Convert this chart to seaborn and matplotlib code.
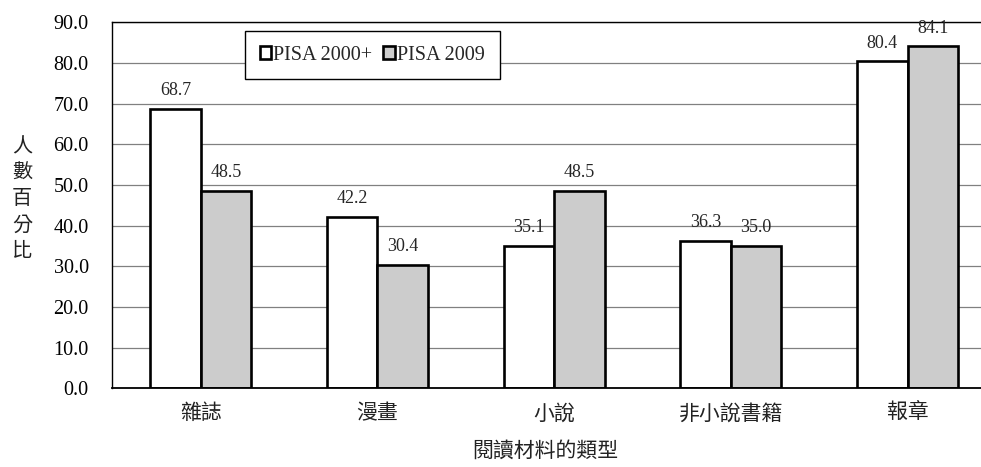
import matplotlib
matplotlib.use("Agg")
import matplotlib.pyplot as plt
import seaborn as sns
import pandas as pd
import numpy as np

categories = ["雜誌", "漫畫", "小說", "非小說書籍", "報章"]
series_names = ["PISA 2000+", "PISA 2009"]
pisa_2000 = [68.7, 42.2, 35.1, 36.3, 80.4]
pisa_2009 = [48.5, 30.4, 48.5, 35.0, 84.1]
y_ticks = [0, 10, 20, 30, 40, 50, 60, 70, 80, 90]

df = pd.DataFrame({
    "類型": categories * 2,
    "系列": [series_names[0]] * len(categories) + [series_names[1]] * len(categories),
    "百分比": pisa_2000 + pisa_2009,
})

sns.set_theme(style="white")
plt.rcParams["font.family"] = ["Liberation Serif", "Noto Sans CJK TC"]
CJK = "Noto Sans CJK TC"

W, H = 981, 467
fig = plt.figure(figsize=(W / 100, H / 100), dpi=100)
ax = fig.add_axes([112.4 / W, 1 - 388.3 / H, 883.5 / W, 366 / H])

sns.barplot(
    data=df, x="類型", y="百分比", hue="系列", order=categories,
    hue_order=series_names, palette=["#FFFFFF", "#CCCCCC"],
    width=0.57, edgecolor="black", linewidth=1.9, saturation=1,
    ax=ax, legend=True,
)

ax.set_ylim(0, 90)
ax.set_xlim(-0.5, len(categories) - 0.5)
ax.set_yticks(y_ticks)
ax.set_yticklabels([f"{v:.1f}" for v in y_ticks], fontsize=14.5)
ax.yaxis.grid(True, color="#808080", linewidth=0.9)
ax.set_axisbelow(True)
ax.tick_params(axis="y", length=0, pad=17, colors="black")

ax.set_xticks(range(len(categories)))
ax.set_xticklabels(categories, family=CJK, fontsize=15, color="#222222",
                   fontweight="light")
ax.tick_params(axis="x", which="major", length=0, pad=10)
ax.set_xticks(np.arange(0.5, len(categories) - 0.5, 1.0), minor=True)
ax.tick_params(axis="x", which="minor", direction="in", length=3.5,
               width=0.8, color="black")

for side in ["left", "bottom", "top", "right"]:
    ax.spines[side].set_visible(True)
    ax.spines[side].set_color("black")
    ax.spines[side].set_linewidth(1.0)
ax.spines["bottom"].set_linewidth(1.3)

for container in ax.containers:
    ax.bar_label(container, fmt="%.1f", padding=7, fontsize=13)

ax.set_xlabel("")
ax.set_ylabel("")
fig.text(545 / W, 1 - 451 / H, "閱讀材料的類型", family=CJK, fontsize=15,
         ha="center", va="center", color="#222222", fontweight="light")
fig.text(22 / W, 1 - 199 / H, "人\n數\n百\n分\n比", family=CJK, fontsize=14.5,
         ha="center", va="center", linespacing=1.3, color="#222222",
         fontweight="light")

leg = ax.legend(
    loc="upper left", bbox_to_anchor=(245 / W, 1 - 31 / H),
    bbox_transform=fig.transFigure, borderaxespad=0, ncol=2,
    frameon=True, fancybox=False, framealpha=1, edgecolor="black",
    fontsize=14.6, handlelength=0.55, handleheight=0.55, handletextpad=0.12,
    columnspacing=0.55, borderpad=0.72,
)
leg.get_frame().set_linewidth(1.0)
for patch in leg.get_patches():
    patch.set_linewidth(1.9)
    patch.set_edgecolor("black")

fig.savefig("out.png", dpi=100)
